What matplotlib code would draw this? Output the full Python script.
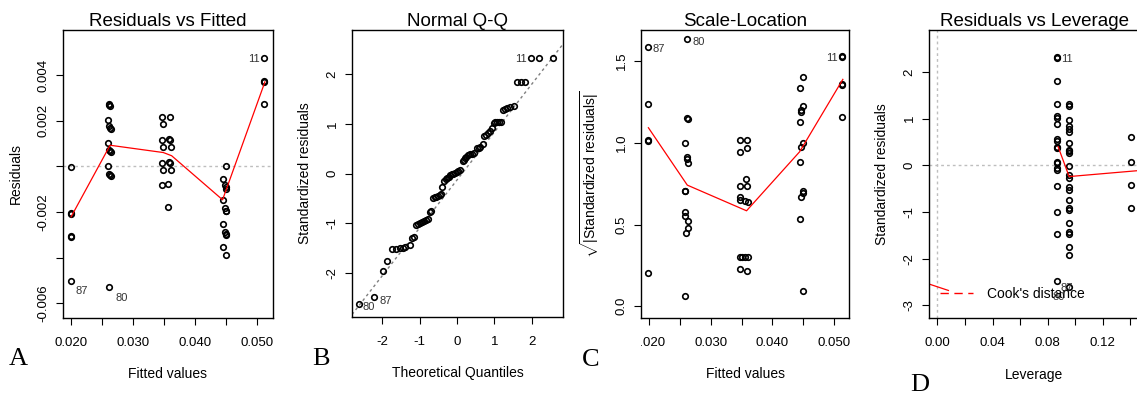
import matplotlib
matplotlib.use("Agg")
import matplotlib.pyplot as plt
from matplotlib.lines import Line2D
from matplotlib.transforms import Bbox

plt.rcParams['font.family'] = ['Liberation Sans', 'DejaVu Sans']
plt.rcParams['mathtext.fontset'] = 'custom'
plt.rcParams['mathtext.rm'] = 'Liberation Sans'
plt.rcParams['mathtext.it'] = 'Liberation Sans:italic'

# --- A : residuals vs fitted ---
fitA = [0.01995, 0.01995, 0.01997, 0.01995, 0.01997, 0.01995,
        0.02613, 0.02618, 0.02622, 0.02591, 0.02613, 0.02629, 0.0264, 0.02591,
        0.02613, 0.02629, 0.0264, 0.02591, 0.02613, 0.02629, 0.0264, 0.02613,
        0.03473, 0.03597, 0.03489, 0.03473, 0.03581, 0.03597, 0.03489, 0.03613,
        0.03473, 0.03581, 0.03597, 0.03489, 0.03613, 0.03473, 0.0357, 0.0357,
        0.045, 0.04457, 0.04484, 0.04495, 0.045, 0.04457, 0.04484, 0.04495,
        0.045, 0.04457, 0.04484, 0.04495, 0.045, 0.04457, 0.045,
        0.05118, 0.05118, 0.05122, 0.05118]
resA = [-0.00003, -0.00206, -0.00208, -0.00306, -0.00308, -0.00502,
        0.00274, 0.0027, 0.00266, 0.00203, 0.00176, 0.00168, 0.00164, 0.00103,
        0.00073, 0.00066, 0.00061, 0.00003, -0.00035, -0.00038, -0.00042, -0.00527,
        0.00214, 0.00214, 0.00184, 0.00115, 0.00118, 0.00113, 0.00084, 0.00084,
        0.00016, 0.00019, 0.00015, -0.00018, -0.00018, -0.00083, -0.00079, -0.0018,
        0.00003, -0.00054, -0.00083, -0.00092, -0.001, -0.00147, -0.00185, -0.00194,
        -0.00198, -0.00251, -0.00286, -0.00296, -0.00302, -0.00352, -0.00388,
        0.00475, 0.00375, 0.00371, 0.00273]
lowA_x = [0.0200, 0.0263, 0.0349, 0.03624, 0.04446, 0.0513]
lowA_y = [-0.00222, 0.00092, 0.0006, 0.00046, -0.00147, 0.0037]
idA = ["87", "80", "11"]
idA_x = [0.01995, 0.02613, 0.05118]
idA_y = [-0.00502, -0.00527, 0.00475]

# --- B : normal Q-Q ---
theoB = [-2.61, -2.21, -1.98, -1.86, -1.74, -1.63, -1.53, -1.44, -1.38, -1.27,
         -1.19, -1.15, -1.09, -1.04, -1.0, -0.94, -0.89, -0.83, -0.78, -0.73,
         -0.7, -0.63, -0.59, -0.56, -0.5, -0.46, -0.43, -0.4, -0.34, -0.3,
         -0.26, -0.22, -0.18, -0.14, -0.1, -0.05, -0.01, 0.03, 0.08, 0.15,
         0.18, 0.22, 0.25, 0.3, 0.34, 0.4, 0.45, 0.54, 0.58, 0.62,
         0.7, 0.73, 0.78, 0.82, 0.88, 0.93, 0.98, 1.03, 1.07, 1.12,
         1.18, 1.23, 1.29, 1.34, 1.43, 1.52, 1.61, 1.71, 1.82, 1.99,
         2.19, 2.57]
stdB = [-2.63, -2.49, -1.96, -1.77, -1.52, -1.52, -1.51, -1.5, -1.48, -1.43,
        -1.29, -1.27, -1.03, -1.01, -0.99, -0.97, -0.96, -0.94, -0.92, -0.77,
        -0.76, -0.49, -0.48, -0.47, -0.45, -0.43, -0.41, -0.28, -0.16, -0.12,
        -0.1, -0.07, -0.04, -0.02, -0.01, 0.01, 0.03, 0.05, 0.08, 0.26,
        0.28, 0.31, 0.34, 0.37, 0.39, 0.4, 0.41, 0.51, 0.52, 0.53,
        0.6, 0.76, 0.78, 0.81, 0.86, 0.91, 1.01, 1.03, 1.03, 1.03,
        1.03, 1.28, 1.3, 1.31, 1.33, 1.35, 1.84, 1.84, 1.84, 2.33,
        2.33, 2.33]
qqline_x = [-2.81, 2.72]
qqline_y = [-2.84, 2.49]
idB = ["80", "87", "11"]
idB_x = [-2.61, -2.21, 1.99]
idB_y = [-2.63, -2.49, 2.33]

# --- C : scale-location ---
fitC = [0.0198, 0.0198, 0.0198, 0.0199, 0.0198,
        0.0262, 0.0262, 0.0263, 0.0258, 0.0262, 0.0262, 0.0263, 0.0258, 0.0259,
        0.0258, 0.0259, 0.0263, 0.0263, 0.026, 0.0258,
        0.0347, 0.0358, 0.0358, 0.0348, 0.0357, 0.0347, 0.0358, 0.0347, 0.0348,
        0.0356, 0.036, 0.0347, 0.0351, 0.0355, 0.036, 0.0347, 0.0358,
        0.045, 0.0444, 0.045, 0.0447, 0.0446, 0.0444, 0.045, 0.0447, 0.0444,
        0.045, 0.0449, 0.0447, 0.0444, 0.045,
        0.0513, 0.0513, 0.0513, 0.0513, 0.0513]
sqC = [1.588, 1.237, 1.016, 1.012, 0.206,
       1.633, 1.152, 1.146, 0.996, 0.914, 0.898, 0.874, 0.708, 0.703,
       0.577, 0.551, 0.522, 0.48, 0.445, 0.065,
       1.016, 1.016, 0.969, 0.945, 0.778, 0.735, 0.735, 0.669, 0.649,
       0.645, 0.639, 0.302, 0.302, 0.302, 0.302, 0.225, 0.214,
       1.404, 1.333, 1.225, 1.2, 1.19, 1.129, 0.996, 0.976, 0.882,
       0.706, 0.69, 0.669, 0.531, 0.094,
       1.53, 1.524, 1.362, 1.356, 1.156]
lowC_x = [0.0199, 0.0262, 0.0358, 0.0444, 0.0514]
lowC_y = [1.092, 0.741, 0.584, 0.945, 1.388]
idC = ["87", "80", "11"]
idC_x = [0.0198, 0.0262, 0.0513]
idC_y = [1.588, 1.633, 1.53]

# --- D : residuals vs leverage ---
levD = [0.0866] * 19 + [0.0956] * 24 + [0.1407] * 4
stdD = [2.33, 2.29, 1.81, 1.31, 1.06, 1.02, 0.885, 0.56, 0.52, 0.40, 0.38,
        0.08, 0.04, -0.05, -0.1, -0.44, -0.99, -1.48, -2.48,
        1.31, 1.27, 0.97, 0.84, 0.78, 0.72, 0.48, 0.33, 0.3, 0.26, -0.01,
        -0.21, -0.27, -0.46, -0.53, -0.74, -0.91, -0.96, -1.24, -1.42, -1.48,
        -1.74, -1.92, -2.60,
        0.60, 0.08, -0.42, -0.91]
lowD_x = [0.0876, 0.0956, 0.146]
lowD_y = [0.40, -0.24, -0.112]
cook_x = [-0.0063, 0.0080]
cook_y = [-2.54, -2.68]
idD = ["11", "87", "80"]
idD_x = [0.0866, 0.0866, 0.0956]
idD_y = [2.33, -2.48, -2.60]

fig = plt.figure(figsize=(11.37, 3.94), dpi=100)
H = 394.0
W = 1137.0


def panneau(left, right, top, bottom):
    return fig.add_axes([left / W, (H - bottom) / H, (right - left) / W, (bottom - top) / H])


def style(ax, titre, xlab, ylab):
    ax.set_title(titre, fontsize=13.5, pad=3)
    ax.set_xlabel(xlab, fontsize=10, labelpad=13)
    ax.set_ylabel(ylab, fontsize=10, labelpad=11)
    ax.tick_params(length=5, width=0.8, labelsize=9.5, pad=9, direction='out')
    ax.tick_params(axis='y', pad=4.5)
    for lab in ax.get_yticklabels():
        lab.set_rotation(90)
        lab.set_va('center')
    for s in ax.spines.values():
        s.set_linewidth(1.0)


pts = dict(ls='none', marker='o', ms=4.0, mfc='none', mec='black', mew=1.2)
lab_kw = dict(textcoords='offset pixels', fontsize=8, color='#333333')

# A
axA = panneau(63, 273, 30, 318)
axA.axhline(0, color='#bebebe', lw=1.0, ls=(0, (2, 2.2)))
axA.plot(fitA, resA, **pts)
axA.plot(lowA_x, lowA_y, color='red', lw=0.9)
axA.set_xlim(0.0187, 0.0526)
axA.set_ylim(-0.00665, 0.00597)
axA.set_xticks([0.020, 0.025, 0.030, 0.035, 0.040, 0.045, 0.050])
axA.set_xticklabels(["0.020", "", "0.030", "", "0.040", "", "0.050"])
axA.set_yticks([-0.006, -0.004, -0.002, 0, 0.002, 0.004])
axA.set_yticklabels(["-0.006", "", "-0.002", "", "0.002", "0.004"])
style(axA, "Residuals vs Fitted", "Fitted values", "Residuals")
axA.annotate(idA[0], (idA_x[0], idA_y[0]), xytext=(5, -10), ha='left', va='center', **lab_kw)
axA.annotate(idA[1], (idA_x[1], idA_y[1]), xytext=(6, -11), ha='left', va='center', **lab_kw)
axA.annotate(idA[2], (idA_x[2], idA_y[2]), xytext=(-4, -1), ha='right', va='center', **lab_kw)

# B
axB = panneau(352, 563, 30, 317)
axB.axline((qqline_x[0], qqline_y[0]), (qqline_x[1], qqline_y[1]), color='#7f7f7f', lw=1.0, ls=(0, (2, 2.2)))
axB.plot(theoB, stdB, **pts)
axB.set_xlim(-2.81, 2.84)
axB.set_ylim(-2.89, 2.89)
axB.set_xticks([-2, -1, 0, 1, 2])
axB.set_xticklabels(["-2", "-1", "0", "1", "2"])
axB.set_yticks([-2, -1, 0, 1, 2])
axB.set_yticklabels(["-2", "-1", "0", "1", "2"])
style(axB, "Normal Q-Q", "Theoretical Quantiles", "Standardized residuals")
axB.annotate(idB[0], (idB_x[0], idB_y[0]), xytext=(3, -3), ha='left', va='center', **lab_kw)
axB.annotate(idB[1], (idB_x[1], idB_y[1]), xytext=(5, -4), ha='left', va='center', **lab_kw)
axB.annotate(idB[2], (idB_x[2], idB_y[2]), xytext=(-5, -1.5), ha='right', va='center', **lab_kw)

# C
axC = panneau(641, 849, 30, 318)
axC.plot(fitC, sqC, **pts)
axC.plot(lowC_x, lowC_y, color='red', lw=0.9)
axC.set_xlim(0.0187, 0.0524)
axC.set_ylim(-0.072, 1.69)
axC.set_xticks([0.020, 0.025, 0.030, 0.035, 0.040, 0.045, 0.050])
axC.set_xticklabels(["0.020", "", "0.030", "", "0.040", "", "0.050"])
axC.set_yticks([0, 0.5, 1.0, 1.5])
axC.set_yticklabels(["0.0", "0.5", "1.0", "1.5"])
style(axC, "Scale-Location", "Fitted values", r"$\sqrt{|\mathrm{Standardized\ residuals}|}$")
axC.annotate(idC[0], (idC_x[0], idC_y[0]), xytext=(5, -2), ha='left', va='center', **lab_kw)
axC.annotate(idC[1], (idC_x[1], idC_y[1]), xytext=(5, -3), ha='left', va='center', **lab_kw)
axC.annotate(idC[2], (idC_x[2], idC_y[2]), xytext=(-4, -2), ha='right', va='center', **lab_kw)
# le premier label est coupé dans l'original
axC.get_xticklabels()[0].set_clip_box(Bbox.from_extents(641, 0, W, H))
axC.get_xticklabels()[0].set_clip_on(True)

# D
axD = panneau(929, 1139, 30, 318)
axD.axhline(0, color='#bebebe', lw=1.0, ls=(0, (2, 2.2)))
axD.axvline(0, color='#bebebe', lw=1.0, ls=(0, (2, 2.2)))
axD.plot(levD, stdD, **pts)
axD.plot(lowD_x, lowD_y, color='red', lw=0.9)
axD.plot(cook_x, cook_y, color='red', lw=0.9)
axD.set_xlim(-0.0061, 0.1463)
axD.set_ylim(-3.27, 2.90)
axD.set_xticks([0.0, 0.02, 0.04, 0.06, 0.08, 0.10, 0.12, 0.14])
axD.set_xticklabels(["0.00", "", "0.04", "", "0.08", "", "0.12", ""])
axD.set_yticks([-3, -2, -1, 0, 1, 2])
axD.set_yticklabels(["-3", "-2", "-1", "0", "1", "2"])
style(axD, "Residuals vs Leverage", "Leverage", "Standardized residuals")
axD.annotate(idD[0], (idD_x[0], idD_y[0]), xytext=(4, -2), ha='left', va='center', **lab_kw)
axD.annotate(idD[1], (idD_x[1], idD_y[1]), xytext=(4, -7), ha='left', va='center', **lab_kw)
axD.annotate(idD[2], (idD_x[2], idD_y[2]), xytext=(-10, -10), ha='center', va='center', **lab_kw)
axD.legend([Line2D([], [], color='red', lw=1.0, ls=(0, (6, 4)))], ["Cook's distance"],
           loc='center left', bbox_to_anchor=(11 / 209, 23.7 / 288), frameon=False,
           fontsize=10, handlelength=2.4, handletextpad=1.0, borderpad=0, borderaxespad=0)

# lettres des panneaux
for lettre, x, y in [("A", 9, 365), ("B", 312, 365), ("C", 582, 366), ("D", 910, 391)]:
    fig.text(x / W, (H - y) / H, lettre, family='Liberation Serif', fontsize=19, va='baseline')

fig.savefig("out.png", dpi=100)
